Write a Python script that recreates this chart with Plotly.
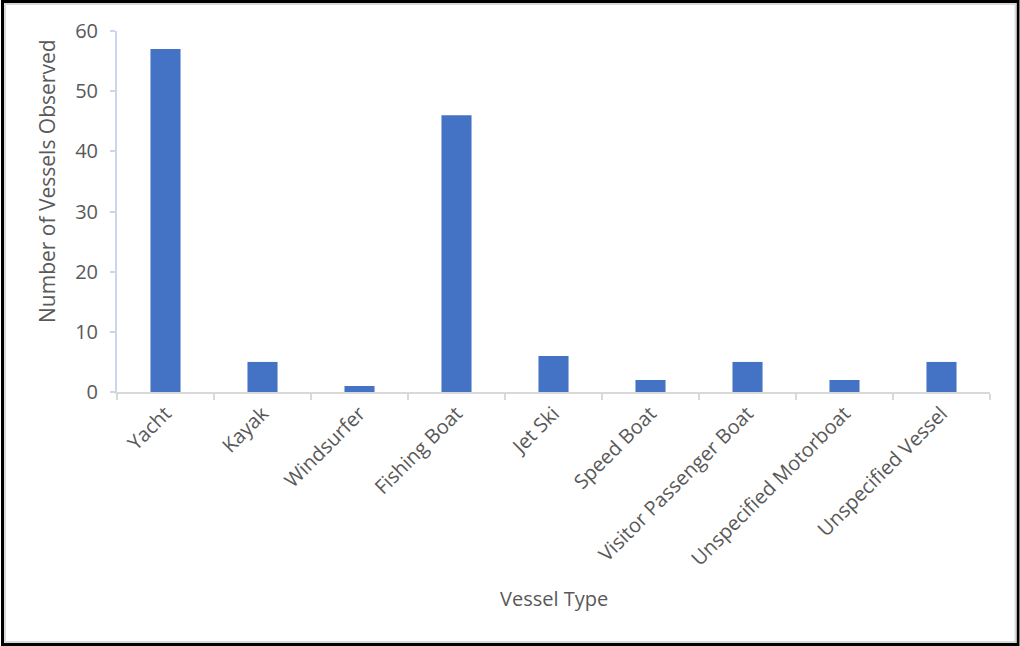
import plotly.graph_objects as go

categories = ["Yacht", "Kayak", "Windsurfer", "Fishing Boat", "Jet Ski", "Speed Boat",
              "Visitor Passenger Boat", "Unspecified Motorboat", "Unspecified Vessel"]
counts = [57, 5, 1, 46, 6, 2, 5, 2, 5]
y_ticks = [0, 10, 20, 30, 40, 50, 60]

W, H = 1020, 646
L, R, T, B = 117, 30, 31, 254
pw, ph = W - L - R, H - T - B

def px(x):
    return (x - L) / pw

def py(y):
    return (H - B - y) / ph

font = "Open Sans"
grey = "#595959"

fig = go.Figure(go.Bar(x=categories, y=counts, marker=dict(color="#4472C4", line_width=0),
                       width=0.31))

fig.update_layout(
    width=W, height=H, margin=dict(l=L, r=R, t=T, b=B),
    paper_bgcolor="white", plot_bgcolor="white", showlegend=False,
    font=dict(family=font, color=grey, size=16),
    xaxis=dict(showline=True, linecolor="#d9d9d9", linewidth=2, ticks="outside",
               tickson="boundaries", ticklen=6, tickcolor="#d9d9d9", tickwidth=2,
               tickangle=-45, tickfont=dict(size=20, color=grey), showgrid=False,
               automargin=False),
    yaxis=dict(range=[0, 60], tickvals=y_ticks, showline=True, linecolor="#cad6ee",
               linewidth=2, ticks="outside", ticklen=5, tickcolor="#cad6ee",
               tickwidth=2, showgrid=False, zeroline=False, ticklabelstandoff=8,
               tickfont=dict(size=20, color=grey), automargin=False),
    annotations=[
        dict(text="Vessel Type", x=0.5, y=py(598), xref="paper", yref="paper",
             showarrow=False, font=dict(size=20, color=grey), xanchor="center", yanchor="middle"),
        dict(text="Number of Vessels Observed", x=px(47), y=py(181), xref="paper", yref="paper",
             showarrow=False, textangle=-90, font=dict(size=21, color=grey),
             xanchor="center", yanchor="middle"),
    ],
    shapes=[
        dict(type="rect", xref="paper", yref="paper", x0=px(2.5), x1=px(1018), y0=py(1.5), y1=py(644.5),
             line=dict(color="black", width=3), layer="above"),
        dict(type="rect", xref="paper", yref="paper", x0=px(5), x1=px(1015.5), y0=py(4), y1=py(642),
             line=dict(color="#d9d9d9", width=2), layer="above"),
    ],
)

fig.write_html("out.html")
